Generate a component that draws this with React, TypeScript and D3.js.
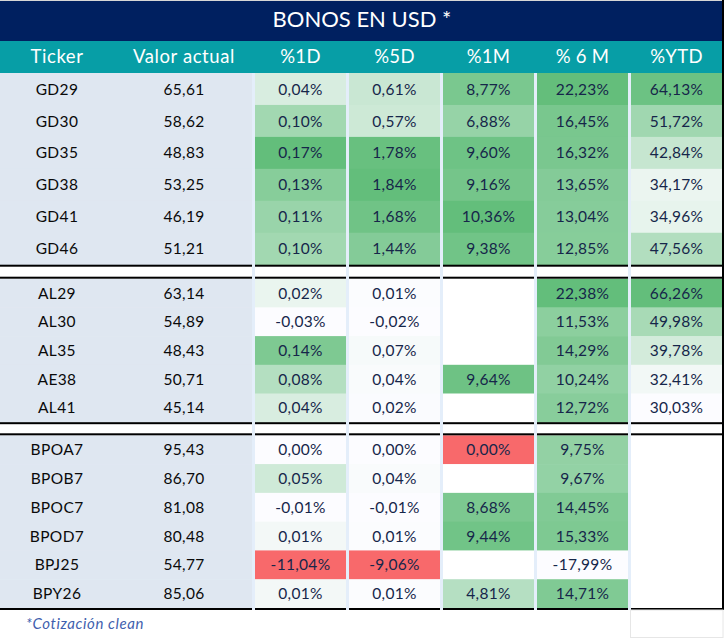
import React from 'react';
import * as d3 from 'd3';

// ---------- data ----------
const title = 'BONOS EN USD *';
const footnote = '*Cotización clean';
const headerTicker = 'Ticker';
const headerPrice = 'Valor actual';
const metricKeys = ['d1', 'd5', 'm1', 'm6', 'ytd'];
const metricLabels = ['%1D', '%5D', '%1M', '% 6 M', '%YTD'];

const gdTickers = ['GD29', 'GD30', 'GD35', 'GD38', 'GD41', 'GD46'];
const alTickers = ['AL29', 'AL30', 'AL35', 'AE38', 'AL41'];
const bpTickers = ['BPOA7', 'BPOB7', 'BPOC7', 'BPOD7', 'BPJ25', 'BPY26'];

const prices = [65.61, 58.62, 48.83, 53.25, 46.19, 51.21,
  63.14, 54.89, 48.43, 50.71, 45.14,
  95.43, 86.70, 81.08, 80.48, 54.77, 85.06];

const pct1D = [0.04, 0.10, 0.17, 0.13, 0.11, 0.10,
  0.02, -0.03, 0.14, 0.08, 0.04,
  0.00, 0.05, -0.01, 0.01, -11.04, 0.01];
const pct5D = [0.61, 0.57, 1.78, 1.84, 1.68, 1.44,
  0.01, -0.02, 0.07, 0.04, 0.02,
  0.00, 0.04, -0.01, 0.01, -9.06, 0.01];
const pct1M: (number | null)[] = [8.77, 6.88, 9.60, 9.16, 10.36, 9.38,
  null, null, null, 9.64, null,
  0.00, null, 8.68, 9.44, null, 4.81];
const pct6M = [22.23, 16.45, 16.32, 13.65, 13.04, 12.85,
  22.38, 11.53, 14.29, 10.24, 12.72,
  9.75, 9.67, 14.45, 15.33, -17.99, 14.71];
const pctYTD: (number | null)[] = [64.13, 51.72, 42.84, 34.17, 34.96, 47.56,
  66.26, 49.98, 39.78, 32.41, 30.03,
  null, null, null, null, null, null];

// ---------- style / layout ----------
const W = 724, H = 639;
const NAVY = '#002060';
const TEAL = '#079ea6';
const TICK_BG = '#dfe7f1';
const GAP = '#e4eefa';
const RED = '#f8696b';
const WHITE = '#fcfcff';
const GREEN = '#63be7b';
const FONT = 'Lato, "Noto Sans", sans-serif';

const sections = [
  { tickers: gdTickers, y0: 73, y1: 264.7 },
  { tickers: alTickers, y0: 278.7, y1: 422.2 },
  { tickers: bpTickers, y0: 435.3, y1: 608 },
];
const blackLines = [264.7, 276.7, 422.2, 433.3, 608];

const locale = d3.formatLocale({ decimal: ',', thousands: '.', grouping: [3], currency: ['$', ''], minus: '-' });
const fmtPrice = locale.format('.2f');
const fmtPct = (v: number) => locale.format('.2f')(v) + '%';

const columns = [pct1D, pct5D, pct1M, pct6M, pctYTD];
const modes = ['rwg', 'rwg', 'rwg', 'wg', 'wg'];

function makeColor(values: (number | null)[], mode: string) {
  const vals = values.filter((v): v is number => v !== null);
  const mn = d3.min(vals) as number;
  const mx = d3.max(vals) as number;
  if (mode === 'wg') {
    const s = d3.scaleLinear<string>().domain([mn, mx]).range([WHITE, GREEN]).interpolate(d3.interpolateRgb);
    return (v: number) => s(v);
  }
  const g = d3.scaleLinear<string>().domain([0, mx]).range([WHITE, GREEN]).interpolate(d3.interpolateRgb).clamp(true);
  const r = d3.scaleLinear<string>().domain([0, mn < 0 ? mn : -1]).range([WHITE, RED]).interpolate(d3.interpolateRgb).clamp(true);
  return (v: number) => (v === mn ? RED : v < 0 ? r(v) : g(v));
}

export default function App() {
  const xCol = d3.scaleBand<string>().domain(metricKeys).range([255, 722]).paddingInner(3 / 94);
  const bw = xCol.bandwidth();
  const colorFns = columns.map((c, i) => makeColor(c, modes[i]));
  const xTicker = 57, xPrice = 184;

  let idx = 0;
  const rows: { ticker: string; i: number; y: number; h: number }[] = [];
  sections.forEach((s) => {
    const yb = d3.scaleBand<string>().domain(s.tickers).range([s.y0, s.y1]);
    s.tickers.forEach((t) => {
      rows.push({ ticker: t, i: idx++, y: yb(t) as number, h: yb.bandwidth() });
    });
  });

  return (
    <svg width={W} height={H} style={{ position: 'absolute', left: 0, top: 0, background: '#fff' }} fontFamily={FONT}>
      <rect x={0} y={0} width={W} height={H} fill="#fff" />
      {/* title */}
      <rect x={0} y={0} width={W} height={1} fill="#d6d6d6" />
      <rect x={0} y={1} width={W} height={40} fill={NAVY} />
      <text x={362} y={26.8} textAnchor="middle" fill="#fff" fontSize={22}>{title}</text>
      {/* header */}
      <rect x={0} y={41} width={W} height={32} fill={TEAL} />
      <text x={xTicker} y={63} textAnchor="middle" fill="#fff" fontSize={18.5} letterSpacing={0.6}>{headerTicker}</text>
      <text x={xPrice} y={63} textAnchor="middle" fill="#fff" fontSize={18.5} letterSpacing={0.6}>{headerPrice}</text>
      {metricLabels.map((l, j) => (
        <text key={l} x={(xCol(metricKeys[j]) as number) + bw / 2} y={63} textAnchor="middle" fill="#fff" fontSize={18.5} letterSpacing={0.3}>{l}</text>
      ))}
      {/* rows */}
      {rows.map((r) => {
        const cy = r.y + r.h / 2;
        return (
          <g key={r.ticker}>
            <rect x={0} y={r.y} width={253} height={r.h + 0.5} fill={TICK_BG} />
            <text x={xTicker} y={cy + 5.6} textAnchor="middle" fill="#0a0a0a" fontSize={15.5} letterSpacing={0.4}>{r.ticker}</text>
            <text x={xPrice} y={cy + 5.6} textAnchor="middle" fill="#0a0a0a" fontSize={15.5} letterSpacing={0.3}>{fmtPrice(prices[r.i])}</text>
            {columns.map((c, j) => {
              const v = c[r.i];
              const x = xCol(metricKeys[j]) as number;
              return (
                <g key={j}>
                  <rect x={x} y={r.y} width={bw} height={r.h + 0.5} fill={v === null ? '#ffffff' : colorFns[j](v)} />
                  {v !== null && (
                    <text x={x + bw / 2} y={cy + 5.6} textAnchor="middle" fill="#16264a" fontSize={15.5} letterSpacing={0.3}>{fmtPct(v)}</text>
                  )}
                </g>
              );
            })}
          </g>
        );
      })}
      {/* separator bands */}
      <rect x={0} y={266.7} width={722} height={10} fill="#fff" />
      <rect x={0} y={424.2} width={722} height={9.1} fill="#fff" />
      {blackLines.map((y) => (
        <rect key={y} x={0} y={y} width={722} height={2} fill="#000" />
      ))}
      {/* column gaps */}
      {metricKeys.map((k) => (
        <rect key={k} x={(xCol(k) as number) - 3} y={73} width={3} height={537} fill={GAP} />
      ))}
      {/* right border */}
      <rect x={722} y={0} width={2} height={610} fill="#000" />
      {/* bottom-right faint box */}
      <rect x={630.5} y={610} width={92.5} height={27.5} fill="none" stroke="#e6e6e6" strokeWidth={1} />
      {/* footnote */}
      <text x={26} y={628.5} fill="#3f5fae" fontSize={15} fontStyle="italic" letterSpacing={0.6}>{footnote}</text>
    </svg>
  );
}
